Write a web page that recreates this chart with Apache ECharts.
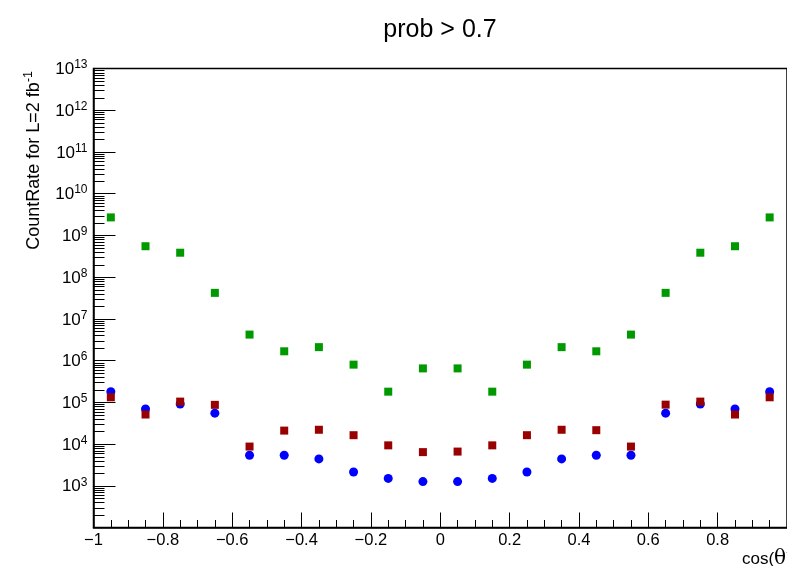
<!DOCTYPE html>
<html>
<head>
<meta charset="utf-8">
<script src="https://cdn.jsdelivr.net/npm/echarts@6/dist/echarts.min.js"></script>
<style>
  html, body { margin: 0; padding: 0; background: #ffffff; }
  #chart { width: 787px; height: 566px; }
</style>
</head>
<body>
<div id="chart"></div>
<script>
// Bin centres in cos(theta)
const cosTheta = [-0.95, -0.85, -0.75, -0.65, -0.55, -0.45, -0.35, -0.25, -0.15, -0.05,
                   0.05,  0.15,  0.25,  0.35,  0.45,  0.55,  0.65,  0.75,  0.85,  0.95];

// Count rates per bin (green squares, dark red squares, blue circles)
const greenCounts = [2.7e9, 5.5e8, 3.85e8, 4.2e7, 4.2e6, 1.67e6, 2.1e6, 8.0e5, 1.8e5, 6.5e5,
                     6.5e5, 1.8e5, 8.0e5, 2.1e6, 1.67e6, 4.2e6, 4.2e7, 3.85e8, 5.5e8, 2.7e9];
const redCounts   = [1.32e5, 5.1e4, 1.04e5, 8.7e4, 8.7e3, 2.1e4, 2.2e4, 1.63e4, 9.3e3, 6.4e3,
                     6.6e3, 9.3e3, 1.63e4, 2.2e4, 2.15e4, 8.7e3, 8.8e4, 1.04e5, 5.1e4, 1.32e5];
const blueCounts  = [1.8e5, 6.9e4, 9.1e4, 5.5e4, 5.4e3, 5.4e3, 4.4e3, 2.14e3, 1.5e3, 1.26e3,
                     1.26e3, 1.5e3, 2.14e3, 4.4e3, 5.4e3, 5.4e3, 5.5e4, 9.1e4, 6.9e4, 1.8e5];

// Axis ranges
const xRange = [-1, 1];
const yRange = [1e2, 1e13];
const yDecades = [2, 3, 4, 5, 6, 7, 8, 9, 10, 11, 12, 13];

const FONT = "'Liberation Sans', Arial, Helvetica, sans-serif";

// Minor tick values of the log axis (2..9 x 10^n)
const yMinorTicks = [];
for (let i = 0; i < yDecades.length - 1; i++) {
  for (let k = 2; k <= 9; k++) yMinorTicks.push(k * Math.pow(10, yDecades[i]));
}

const pairs = (ys) => cosTheta.map((x, i) => [x, ys[i]]);

const chart = echarts.init(document.getElementById('chart'), null, { renderer: 'canvas' });

chart.setOption({
  backgroundColor: '#ffffff',
  animation: false,
  grid: {
    left: 93.5, top: 68.5, width: 696, height: 459,
    show: true, borderColor: '#000000', borderWidth: 1.5, backgroundColor: 'transparent'
  },
  xAxis: {
    type: 'value',
    min: xRange[0], max: xRange[1], interval: 0.2,
    axisLine: { show: true, onZero: false, lineStyle: { color: '#000000', width: 1.5 } },
    axisTick: { show: true, inside: true, length: 15, lineStyle: { color: '#000000', width: 1 } },
    minorTick: { show: true, splitNumber: 4, length: 7.5, lineStyle: { color: '#000000', width: 1 } },
    splitLine: { show: false },
    axisLabel: {
      show: true, margin: 4, color: '#000000', fontSize: 16.5, fontFamily: FONT,
      showMaxLabel: false,
      formatter: (v) => {
        const r = Math.round(v * 10) / 10;
        if (r === 1) return '';
        return r < 0 ? '\u2212' + String(Math.abs(r)) : String(r);
      }
    }
  },
  yAxis: {
    type: 'log', logBase: 10,
    min: yRange[0], max: yRange[1], interval: 1,
    axisLine: { show: true, onZero: false, lineStyle: { color: '#000000', width: 1.5 } },
    axisTick: { show: true, inside: true, length: 22, lineStyle: { color: '#000000', width: 1 } },
    splitLine: { show: false },
    axisLabel: {
      show: true, margin: 6, color: '#000000', fontFamily: FONT,
      formatter: (v) => {
        const e = Math.round(Math.log10(v));
        if (e === yDecades[0]) return '';
        return '{b|10}{s|' + e + '}';
      },
      rich: {
        b: { fontSize: 17, fontFamily: FONT, color: '#000000', verticalAlign: 'bottom', lineHeight: 19 },
        s: { fontSize: 12, fontFamily: FONT, color: '#000000', verticalAlign: 'top', lineHeight: 19 }
      }
    }
  },
  graphic: [
    {
      type: 'text', x: 440, y: 30,
      style: { text: 'prob > 0.7', fontSize: 25, fontFamily: FONT, fill: '#000000',
               textAlign: 'center', textVerticalAlign: 'middle' }
    },
    {
      type: 'text', x: 32.5, y: 71, rotation: Math.PI / 2,
      style: {
        text: '{a|CountRate for L=2 fb}{s|-1}',
        textAlign: 'right', textVerticalAlign: 'middle',
        rich: {
          a: { fontSize: 18, fontFamily: FONT, fill: '#000000', verticalAlign: 'bottom', lineHeight: 21 },
          s: { fontSize: 12.5, fontFamily: FONT, fill: '#000000', verticalAlign: 'top', lineHeight: 21 }
        }
      }
    },
    {
      type: 'text', x: 742, y: 559,
      style: {
        text: '{a|cos(}{t|\u03b8}{a|)}',
        textAlign: 'left', textVerticalAlign: 'middle',
        rich: {
          a: { fontSize: 17, fontFamily: FONT, fill: '#000000' },
          t: { fontSize: 20, fontFamily: "'DejaVu Serif', serif", fill: '#000000' }
        }
      }
    }
  ],
  series: [
    {
      name: 'minor ticks', type: 'custom', silent: true, clip: false, z: 5,
      data: yMinorTicks.map((v) => [xRange[0], v]),
      renderItem: (params, api) => {
        const p = api.coord([api.value(0), api.value(1)]);
        const y = Math.round(p[1]) + 0.5;
        return {
          type: 'line',
          shape: { x1: p[0], y1: y, x2: p[0] + 11, y2: y },
          style: { stroke: '#000000', lineWidth: 1 }
        };
      }
    },
    {
      name: 'blue', type: 'scatter', symbol: 'circle', symbolSize: 9,
      itemStyle: { color: '#0000ff', opacity: 1 }, data: pairs(blueCounts), z: 2
    },
    {
      name: 'red', type: 'scatter', symbol: 'rect', symbolSize: 8,
      itemStyle: { color: '#990000', opacity: 1 }, data: pairs(redCounts), z: 3
    },
    {
      name: 'green', type: 'scatter', symbol: 'rect', symbolSize: 8,
      itemStyle: { color: '#009900', opacity: 1 }, data: pairs(greenCounts), z: 4
    }
  ]
});
</script>
</body>
</html>
